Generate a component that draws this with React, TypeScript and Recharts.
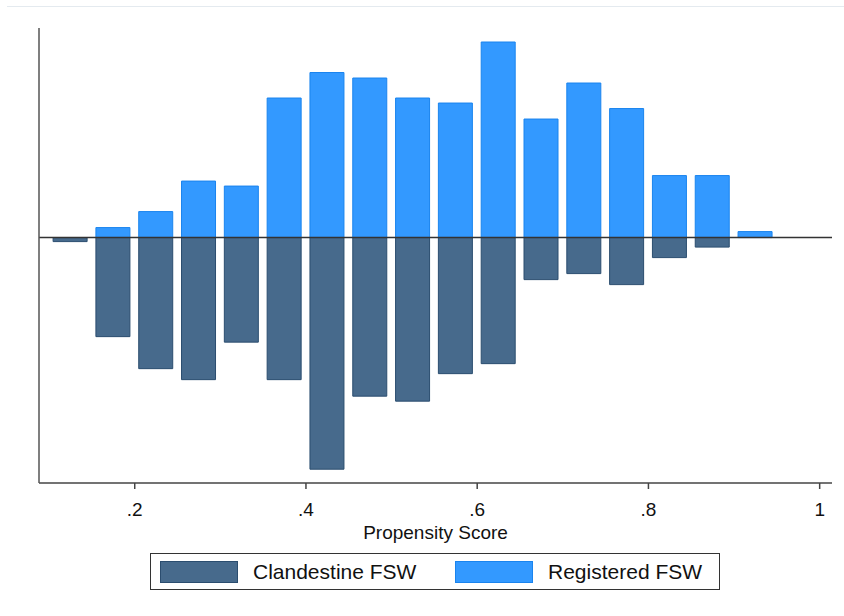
import React from "react";
import { BarChart, Bar, XAxis, YAxis, ReferenceLine } from "recharts";

// bin midpoints of the propensity score histogram (bin width .05)
const binCenters = [
  0.125, 0.175, 0.225, 0.275, 0.325, 0.375, 0.425, 0.475, 0.525, 0.575, 0.625,
  0.675, 0.725, 0.775, 0.825, 0.875, 0.925,
];

// bar heights (relative frequency, arbitrary units)
const registered = [
  0, 10, 26, 56.5, 51.5, 139.5, 165, 159.5, 139.5, 134.5, 195.5, 118.5, 154.5,
  129, 62, 62, 6,
];
const clandestine = [
  4, 99, 131, 142, 104.5, 142, 231.5, 158.5, 163.5, 136, 126, 42, 36, 47, 20,
  9.5, 0,
];

const xTicks = [0.2, 0.4, 0.6, 0.8, 1];

const series = [
  { key: "clandestine", name: "Clandestine FSW", fill: "#476a8c", stroke: "#2b4d6f" },
  { key: "registered", name: "Registered FSW", fill: "#3399ff", stroke: "#1a84ee" },
];

const font = "'Liberation Sans', Arial, sans-serif";

export default function App() {
  // clandestine bars hang below zero
  const data = binCenters.map((x, i) => ({
    x,
    registered: registered[i] === 0 ? null : registered[i],
    clandestine: clandestine[i] === 0 ? null : -clandestine[i],
  }));

  const fmt = (v: number) => (v === 1 ? "1" : String(v).replace(/^0/, ""));

  return (
    <div
      style={{
        position: "absolute",
        left: 0,
        top: 0,
        width: 844,
        height: 616,
        background: "#fff",
        fontFamily: font,
      }}
    >
      <div
        style={{
          position: "absolute",
          left: 7,
          right: 0,
          top: 6,
          height: 1,
          background: "#e4eaef",
        }}
      />
      <BarChart
        width={844}
        height={616}
        data={data}
        stackOffset="sign"
        barSize={34}
        margin={{ top: 28, right: 12, left: 38, bottom: 0 }}
      >
        <XAxis
          dataKey="x"
          type="number"
          domain={[0.0882, 1.0144]}
          ticks={xTicks}
          tickFormatter={fmt}
          allowDataOverflow
          height={133}
          stroke="#444"
          strokeWidth={1.5}
          tickSize={6}
          tickMargin={14}
          tick={{ fontSize: 19, fill: "#111", fontFamily: font }}
          label={{
            value: "Propensity Score",
            position: "insideBottom",
            offset: 77,
            fontSize: 19,
            fill: "#111",
            fontFamily: font,
          }}
        />
        <YAxis
          type="number"
          domain={[-245.3, 209.5]}
          allowDataOverflow
          width={1}
          tick={false}
          tickLine={false}
          stroke="#555"
          strokeWidth={1.5}
        />
        {series.map((s) => (
          <Bar
            key={s.key}
            dataKey={s.key}
            name={s.name}
            stackId="a"
            fill={s.fill}
            stroke={s.stroke}
            strokeWidth={1}
            isAnimationActive={false}
          />
        ))}
        <ReferenceLine y={0} stroke="#333" strokeWidth={1.5} />
      </BarChart>
      <div
        style={{
          position: "absolute",
          left: 150,
          top: 553,
          width: 568,
          height: 35,
          border: "1.5px solid #333",
        }}
      >
        {series.map((s, i) => (
          <div
            key={s.key}
            style={{
              position: "absolute",
              left: 9 + i * 295,
              top: 7,
              display: "flex",
              alignItems: "center",
            }}
          >
            <div
              style={{
                width: 76,
                height: 20,
                background: s.fill,
                border: `1px solid ${s.stroke}`,
              }}
            />
            <span
              style={{
                marginLeft: 15,
                fontSize: 21,
                color: "#111",
                lineHeight: "22px",
              }}
            >
              {s.name}
            </span>
          </div>
        ))}
      </div>
    </div>
  );
}
